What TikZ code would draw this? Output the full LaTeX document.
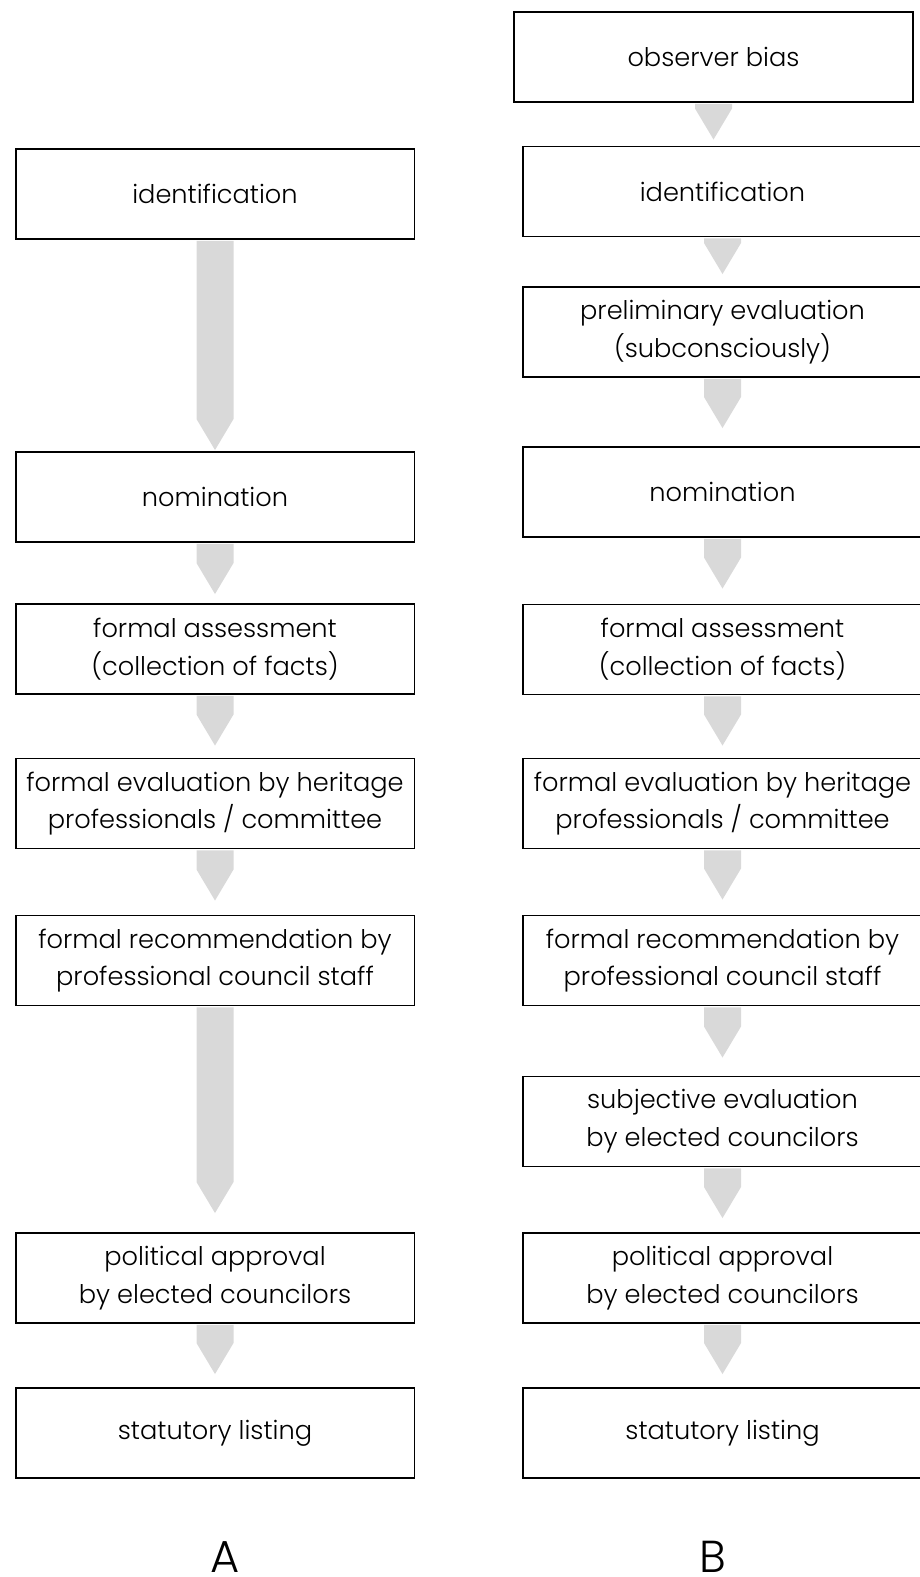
\documentclass[tikz,border=0pt]{standalone}
\usepackage{fontspec}
\setmainfont{Poppins}[UprightFont=* Light]
\usetikzlibrary{positioning}
\usetikzlibrary{calc}
\usepackage{xcolor}
\definecolor{flowgray}{RGB}{217,217,217}

% grey block arrow: from node, to node, gap above the target (px)
\newcommand{\flow}[3]{%
  \fill[flowgray] ($(#1.south)+(-18.5,1)$) -- ($(#1.south |- #2.north)+(-18.5,-#3-31)$)
    -- ($(#1.south |- #2.north)+(0,-#3)$) -- ($(#1.south |- #2.north)+(18.5,-#3-31)$)
    -- ($(#1.south)+(18.5,1)$) -- cycle;}

\begin{document}
\begin{tikzpicture}
[x=0.02cm, y=-0.02cm,
% The stage style is used for each step of the listing procedure
stage/.style={rectangle, draw, line width=1.1pt, minimum width=7.98cm, minimum height=1.8cm, inner sep=0pt, align=center, font=\fontsize{14.6}{21.5}\selectfont},
% The caption style is used for the letters under the columns
caption/.style={inner sep=0pt, font=\fontsize{25.5}{30}\selectfont}
]
\useasboundingbox (0,0) rectangle (919,1577);

% Column A
\node [stage] (identA) at (215,194) {identification};
\node [stage] (nomA) at (215,497) {nomination};
\node [stage] (assessA) at (215,649) {formal assessment\\(collection of facts)};
\node [stage] (evalA) at (215,803.5) {formal evaluation by heritage\\professionals / committee};
\node [stage] (recomA) at (215,960.5) {formal recommendation by\\professional council staff};
\node [stage] (approvA) at (215,1278) {political approval\\by elected councilors};
\node [stage] (listA) at (215,1433) {statutory listing};
\node [caption] (capA) at (225,1557) {A};

% Column B
\node [stage] (biasB) at (713.5,57) {observer bias};
\node [stage] (identB) at (722.5,191.5) {identification};
\node [stage] (prelimB) at (722.5,332) {preliminary evaluation\\(subconsciously)};
\node [stage] (nomB) at (722.5,492) {nomination};
\node [stage] (assessB) at (722.5,649.5) {formal assessment\\(collection of facts)};
\node [stage] (evalB) at (722.5,803.5) {formal evaluation by heritage\\professionals / committee};
\node [stage] (recomB) at (722.5,960.5) {formal recommendation by\\professional council staff};
\node [stage] (subjB) at (722.5,1121.5) {subjective evaluation\\by elected councilors};
\node [stage] (approvB) at (722.5,1278) {political approval\\by elected councilors};
\node [stage] (listB) at (722.5,1433) {statutory listing};
\node [caption] (capB) at (712.5,1557) {B};

% Draw arrows
\flow{identA}{nomA}{1}
\flow{nomA}{assessA}{9}
\flow{assessA}{evalA}{12}
\flow{evalA}{recomA}{14}
\flow{recomA}{approvA}{19}
\flow{approvA}{listA}{13}

\flow{biasB}{identB}{6}
\flow{identB}{prelimB}{12}
\flow{prelimB}{nomB}{18}
\flow{nomB}{assessB}{15}
\flow{assessB}{evalB}{12}
\flow{evalB}{recomB}{15}
\flow{recomB}{subjB}{18}
\flow{subjB}{approvB}{14}
\flow{approvB}{listB}{13}
\end{tikzpicture}
\end{document}
